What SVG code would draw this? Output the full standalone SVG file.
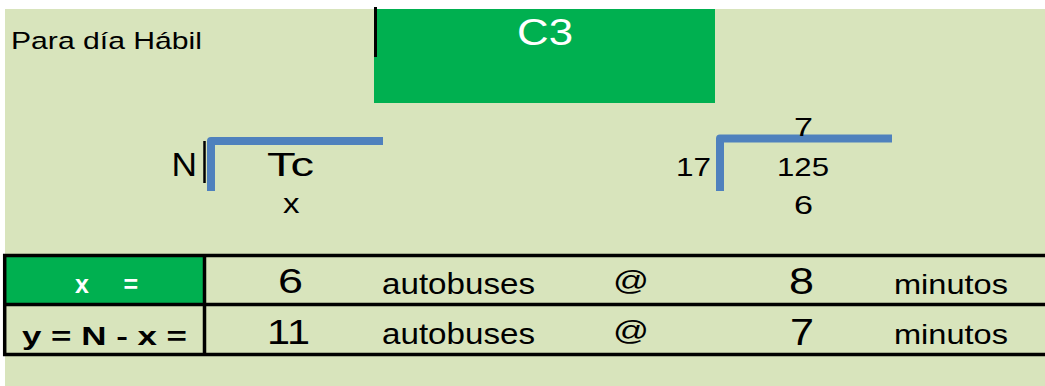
<svg xmlns="http://www.w3.org/2000/svg" width="1045" height="386" viewBox="0 0 1045 386">
<style>
text{font-family:"Liberation Sans",Arial,sans-serif;fill:#000}
.w{fill:#fff}
.b{font-weight:bold}
.bl{fill:none;stroke:#4F81BD;stroke-width:8;stroke-linejoin:round}
.ln{stroke:#000;stroke-width:3.5;fill:none}
</style>
<rect x="0" y="0" width="1045" height="386" fill="#fff"/>
<rect x="5" y="9" width="1040" height="377" fill="#D8E4BC"/>
<g id="title">
<text x="11" y="48.5" font-size="24.5" textLength="191" lengthAdjust="spacingAndGlyphs">Para día Hábil</text>
</g>
<g id="c3">
<rect x="374" y="9" width="341" height="94" fill="#00B050"/>
<line x1="375.5" y1="7" x2="375.5" y2="57" stroke="#000" stroke-width="3"/>
<text class="w" x="517" y="45" font-size="37" textLength="56" lengthAdjust="spacingAndGlyphs">C3</text>
</g>
<g id="division-left">
<line x1="204.5" y1="141" x2="204.5" y2="183" stroke="#000" stroke-width="2.5"/>
<path class="bl" d="M211 191 L211 141 L383 141"/>
<text x="171.5" y="175.5" font-size="33.5" textLength="25.5" lengthAdjust="spacingAndGlyphs">N</text>
<text x="267" y="175.5" font-size="33.5" textLength="47" lengthAdjust="spacingAndGlyphs">Tc</text>
<text x="283" y="213" font-size="28" textLength="16.5" lengthAdjust="spacingAndGlyphs">x</text>
</g>
<g id="division-right">
<path class="bl" d="M720 191 L720 138.5 L892 138.5"/>
<text x="794" y="136" font-size="26.5" textLength="19" lengthAdjust="spacingAndGlyphs">7</text>
<text x="676" y="176" font-size="26.5" textLength="35" lengthAdjust="spacingAndGlyphs">17</text>
<text x="777" y="176" font-size="26.5" textLength="52" lengthAdjust="spacingAndGlyphs">125</text>
<text x="794" y="214" font-size="26.5" textLength="19" lengthAdjust="spacingAndGlyphs">6</text>
</g>
<g id="table">
<rect x="6" y="257" width="197" height="46" fill="#00B050"/>
<text class="w b" x="75" y="293" font-size="25" textLength="63" lengthAdjust="spacing">x =</text>
<text class="b" x="22" y="345" font-size="25" textLength="165" lengthAdjust="spacingAndGlyphs">y = N - x =</text>
<text x="278" y="293" font-size="35" textLength="25" lengthAdjust="spacingAndGlyphs">6</text>
<text x="267" y="344" font-size="35" textLength="43" lengthAdjust="spacingAndGlyphs">11</text>
<text x="382" y="294" font-size="29.5" textLength="153" lengthAdjust="spacingAndGlyphs">autobuses</text>
<text x="382" y="344" font-size="29.5" textLength="153" lengthAdjust="spacingAndGlyphs">autobuses</text>
<text x="613" y="290" font-size="28" textLength="36" lengthAdjust="spacingAndGlyphs">@</text>
<text x="613" y="340" font-size="28" textLength="36" lengthAdjust="spacingAndGlyphs">@</text>
<text x="789" y="294" font-size="36" textLength="25" lengthAdjust="spacingAndGlyphs">8</text>
<text x="790" y="345" font-size="36" textLength="24" lengthAdjust="spacingAndGlyphs">7</text>
<text x="894" y="294" font-size="28" textLength="114" lengthAdjust="spacingAndGlyphs">minutos</text>
<text x="894" y="344" font-size="28" textLength="114" lengthAdjust="spacingAndGlyphs">minutos</text>
</g>
<g id="connectors">
<line class="ln" x1="3" y1="255.5" x2="1045" y2="255.5"/>
<line class="ln" x1="3" y1="304.5" x2="1045" y2="304.5"/>
<line class="ln" x1="3" y1="354.5" x2="1045" y2="354.5"/>
<line class="ln" x1="4.7" y1="254" x2="4.7" y2="356"/>
<line class="ln" x1="204.5" y1="254" x2="204.5" y2="356"/>
</g>
</svg>
